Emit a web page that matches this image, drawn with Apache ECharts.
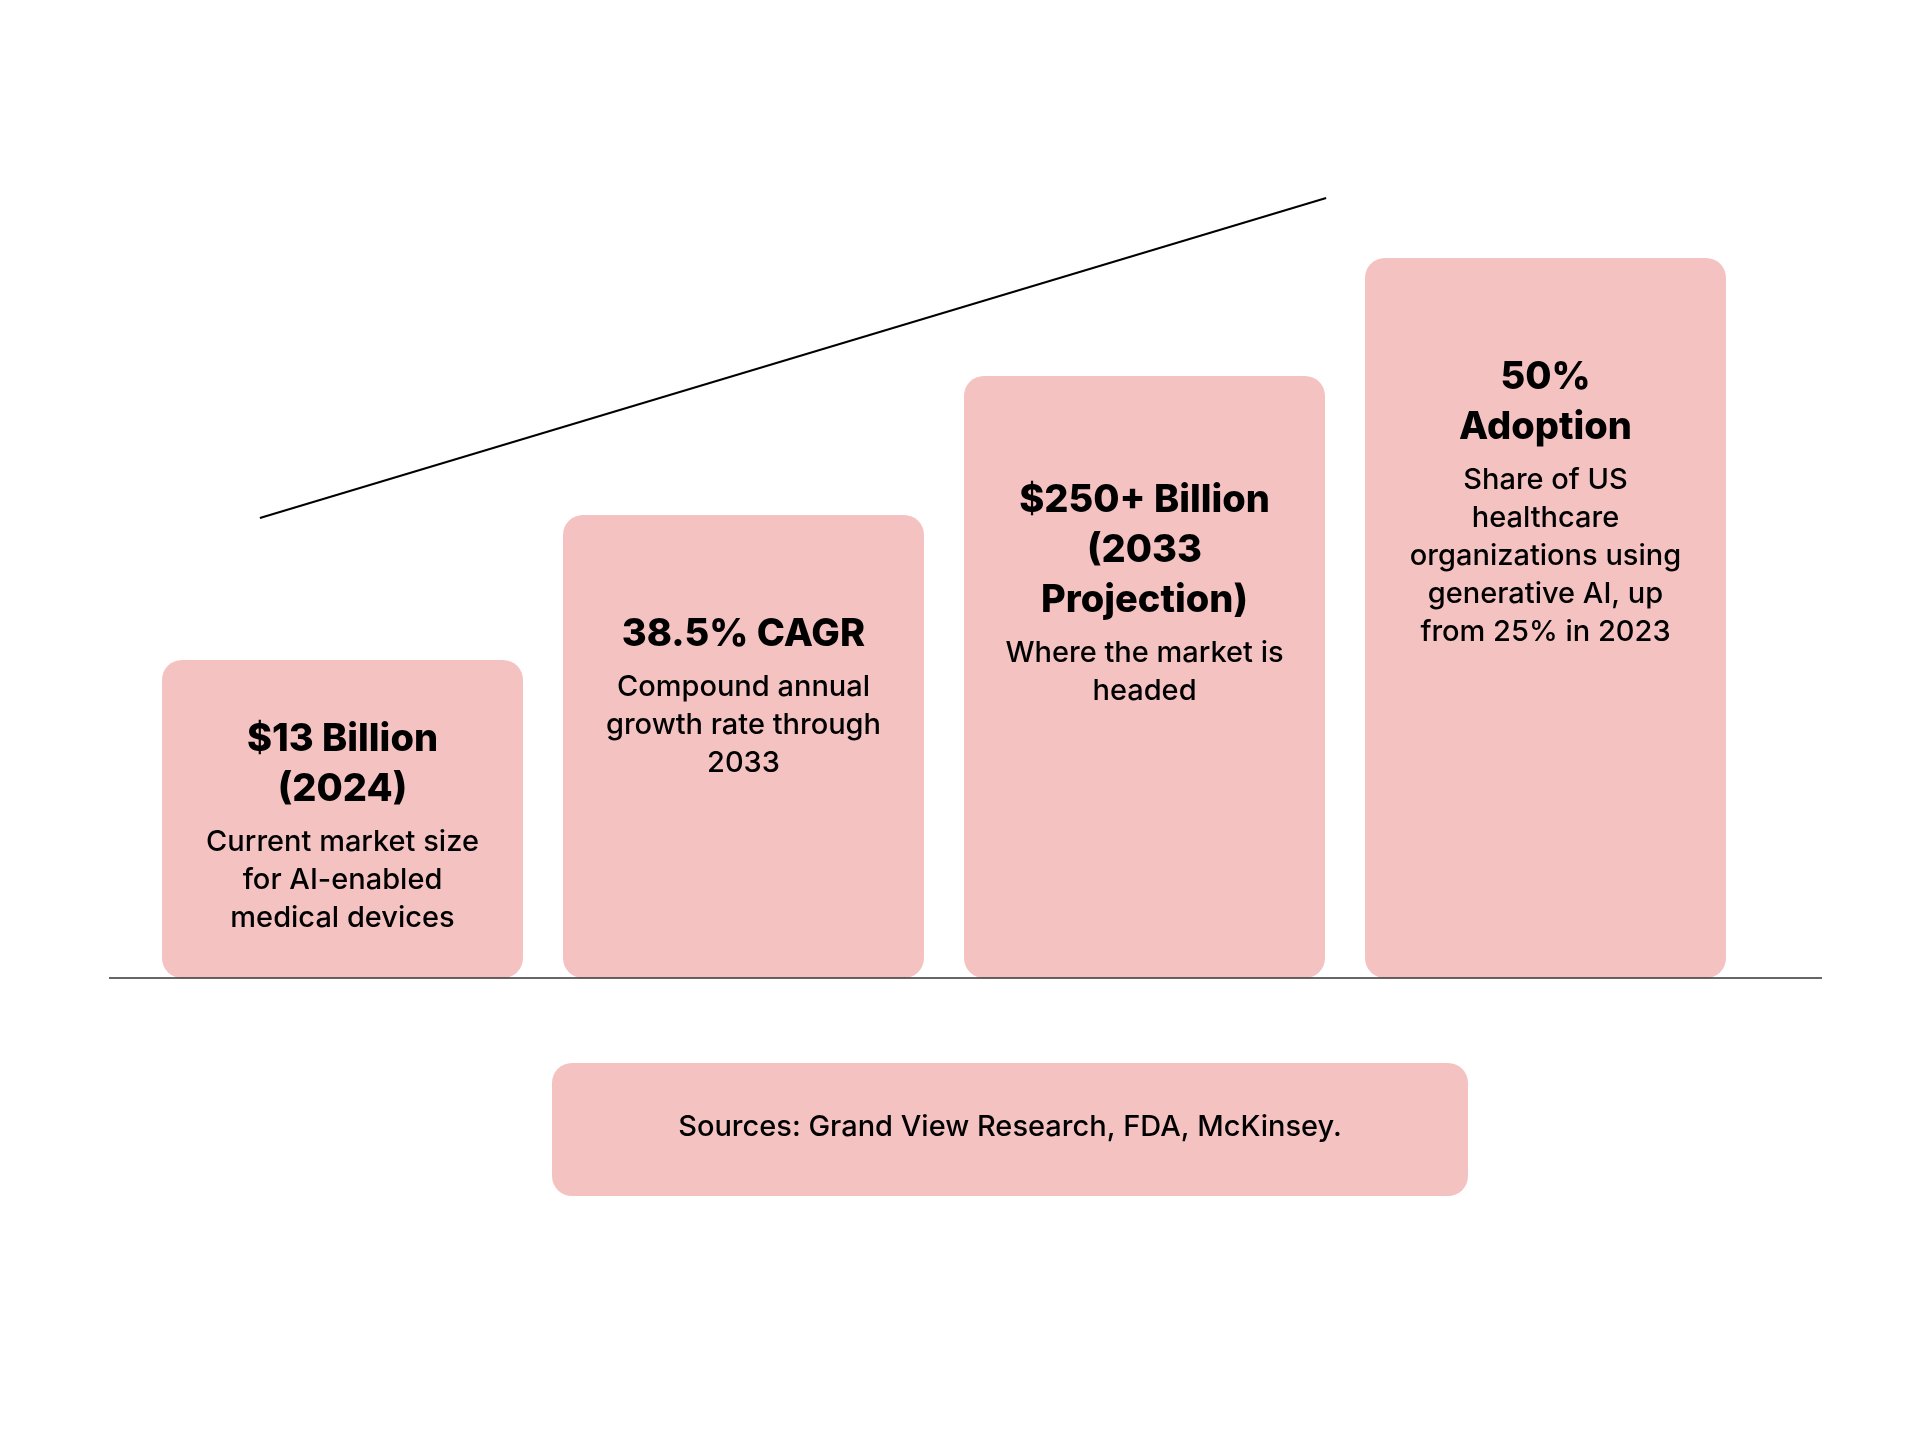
<!DOCTYPE html>
<html><head><meta charset="utf-8">
<script src="https://cdn.jsdelivr.net/npm/echarts@6/dist/echarts.min.js"></script>
<style>html,body{margin:0;background:#fff}#c{width:1920px;height:1430px}</style>
</head><body><div id="c"></div>
<script>
const categories = ['2024 market', 'CAGR', '2033 projection', 'Adoption'];
const barHeights = [318, 463, 602, 720];
const titles = ['$13 Billion\n(2024)', '38.5% CAGR', '$250+ Billion\n(2033\nProjection)', '50%\nAdoption'];
const descriptions = ['Current market size\nfor AI-enabled\nmedical devices', 'Compound annual\ngrowth rate through\n2033', 'Where the market is\nheaded', 'Share of US\nhealthcare\norganizations using\ngenerative AI, up\nfrom 25% in 2023'];
const labelOffsets = [55, 95, 100, 95];
const trendStart = [0.294, 460];
const trendEnd = [2.953, 780];
const sourceText = 'Sources: Grand View Research, FDA, McKinsey.';

const chart = echarts.init(document.getElementById('c'));
const FONT = 'Inter';
chart.setOption({
  backgroundColor: '#fff',
  grid: {left: 142, top: 178, width: 1604, height: 800},
  xAxis: [
    {type: 'category', data: categories, axisLine: {show: false}, axisTick: {show: false}, axisLabel: {show: false}},
    {type: 'value', min: 0, max: 4, show: false}
  ],
  yAxis: {type: 'value', min: 0, max: 800, show: false, splitLine: {show: false}},
  series: [
    {
      type: 'bar', barWidth: 361, xAxisIndex: 0,
      itemStyle: {color: '#F5C2C2', borderRadius: 20},
      data: barHeights.map((v, i) => ({
        value: v,
        label: {
          show: true, position: 'insideTop', distance: labelOffsets[i],
          formatter: '{t|' + titles[i].split('\n').join('}\n{t|') + '}\n{s|}\n{d|' + descriptions[i].split('\n').join('}\n{d|') + '}',
          rich: {
            t: {fontFamily: FONT, fontWeight: 800, fontSize: 38, lineHeight: 50, color: '#000', align: 'center'},
            s: {fontSize: 8, lineHeight: 8},
            d: {fontFamily: FONT, fontWeight: 500, fontSize: 29, lineHeight: 38, color: '#000', align: 'center'}
          }
        }
      }))
    },
    {
      type: 'line', xAxisIndex: 1, data: [], silent: true,
      markLine: {
        silent: true, symbol: ['none', 'arrow'], symbolSize: [0, 14],
        lineStyle: {color: '#000', width: 2, type: 'solid'}, label: {show: false},
        data: [[{coord: trendStart}, {coord: trendEnd}]]
      }
    }
  ],
  graphic: [
    {type: 'line', shape: {x1: 109, y1: 978, x2: 1822, y2: 978}, style: {stroke: '#333', lineWidth: 1.5}, z: 10},
    {type: 'rect', shape: {x: 552, y: 1063, width: 916, height: 133, r: 20}, style: {fill: '#F5C2C2'}},
    {type: 'text', x: 1010, y: 1127, style: {text: sourceText, font: '500 29px Inter', fill: '#000', align: 'center', verticalAlign: 'middle'}}
  ]
});
</script></body></html>
